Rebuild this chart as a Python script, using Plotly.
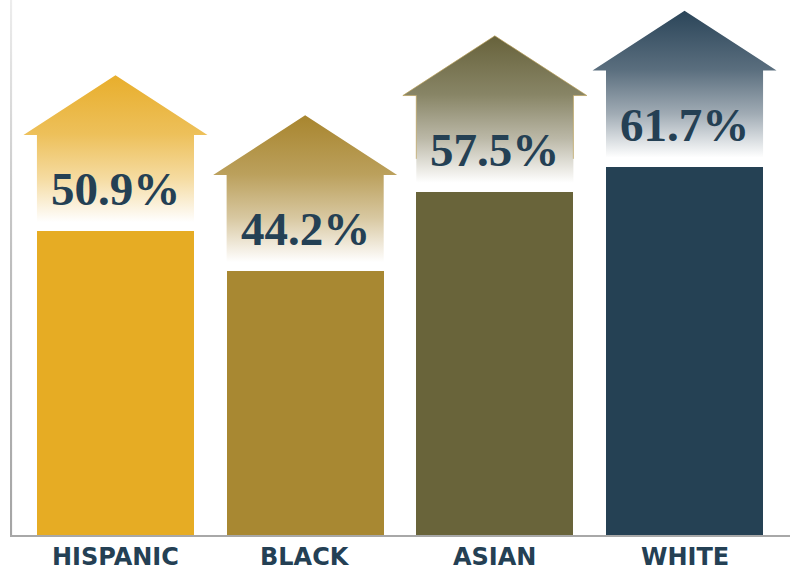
import plotly.graph_objects as go

# Homeownership rate by group
categories = ["HISPANIC", "BLACK", "ASIAN", "WHITE"]
rates = [50.9, 44.2, 57.5, 61.7]
bar_colors = ["#E6AC24", "#A88832", "#69643A", "#254154"]
roof_colors = ["#E8AE2C", "#A8852E", "#67623B", "#2B4559"]

TEXT_COLOR = "#244054"
X_RANGE = [-0.556, 3.556]
Y_RANGE = [0, 89.6]

# House outline proportions (data units relative to each bar's top)
BAR_WIDTH = 0.828
WALL_HALF = BAR_WIDTH / 2
EAVE_HALF = 0.485
GAP = 1.5
EAVE_RISE = 16.1
APEX_RISE = 26.1
LABEL_RISE = 7.0


def hex_to_rgb(h):
    h = h.lstrip("#")
    return tuple(int(h[i:i + 2], 16) for i in (0, 2, 4))


def mix(hex_color, t):
    r, g, b = hex_to_rgb(hex_color)
    return "rgb({},{},{})".format(
        round(255 + (r - 255) * t), round(255 + (g - 255) * t), round(255 + (b - 255) * t)
    )


def fade_scale(hex_color):
    stops = [(0.0, 0.0), (0.08, 0.12), (0.3, 0.45), (0.6, 0.78), (1.0, 1.0)]
    return [[p, mix(hex_color, t)] for p, t in stops]


fig = go.Figure()

# Solid bars
fig.add_trace(go.Bar(
    x=list(range(len(categories))),
    y=rates,
    width=BAR_WIDTH,
    marker=dict(color=bar_colors, line=dict(width=0)),
    hoverinfo="skip",
    showlegend=False,
))

# House-shaped roofs with a vertical fade to white
for i, (v, col) in enumerate(zip(rates, roof_colors)):
    xs = [i - WALL_HALF, i - WALL_HALF, i - EAVE_HALF, i, i + EAVE_HALF,
          i + WALL_HALF, i + WALL_HALF, i - WALL_HALF]
    ys = [v + GAP, v + EAVE_RISE, v + EAVE_RISE, v + APEX_RISE, v + EAVE_RISE,
          v + EAVE_RISE, v + GAP, v + GAP]
    fig.add_trace(go.Scatter(
        x=xs, y=ys, mode="lines", fill="toself",
        line=dict(width=0),
        fillgradient=dict(type="vertical", colorscale=fade_scale(col)),
        hoverinfo="skip", showlegend=False,
    ))
    if categories[i] == "ASIAN":
        # thin golden trim along the roof and upper walls
        fig.add_trace(go.Scatter(
            x=xs[:7], y=[y if y != v + GAP else v + GAP + 4 for y in ys[:7]],
            mode="lines", line=dict(width=1, color="rgba(185,160,90,0.7)"),
            hoverinfo="skip", showlegend=False,
        ))

# Left axis line fading toward the top
ax_w = 0.011
fig.add_trace(go.Scatter(
    x=[X_RANGE[0], X_RANGE[0] + ax_w, X_RANGE[0] + ax_w, X_RANGE[0], X_RANGE[0]],
    y=[Y_RANGE[0], Y_RANGE[0], Y_RANGE[1], Y_RANGE[1], Y_RANGE[0]],
    mode="lines", fill="toself", line=dict(width=0),
    fillgradient=dict(type="vertical", colorscale=[[0, "#A4A4A4"], [0.5, "#BDBDBD"], [1, "#EDEDED"]]),
    hoverinfo="skip", showlegend=False,
))

annotations = []
for i, v in enumerate(rates):
    annotations.append(dict(
        x=i, y=v + LABEL_RISE, xref="x", yref="y",
        text=f"{v}%", showarrow=False,
        font=dict(family="Liberation Serif", size=47, color=TEXT_COLOR, weight="bold"),
        xanchor="center", yanchor="middle",
    ))
    annotations.append(dict(
        x=i, y=0, xref="x", yref="paper",
        text=categories[i], showarrow=False,
        font=dict(family="DejaVu Sans", size=24, color=TEXT_COLOR, weight="bold"),
        xanchor="center", yanchor="top", yshift=-6,
    ))

fig.update_layout(
    width=798, height=573,
    margin=dict(l=10, r=8, t=0, b=38),
    paper_bgcolor="white", plot_bgcolor="white",
    bargap=0,
    xaxis=dict(range=X_RANGE, showgrid=False, zeroline=False, showticklabels=False,
               showline=True, linecolor="#A8A8A8", linewidth=2, ticks="", fixedrange=True),
    yaxis=dict(range=Y_RANGE, showgrid=False, zeroline=False, showticklabels=False,
               showline=False, ticks="", fixedrange=True),
    annotations=annotations,
)

fig.write_html("out.html")
